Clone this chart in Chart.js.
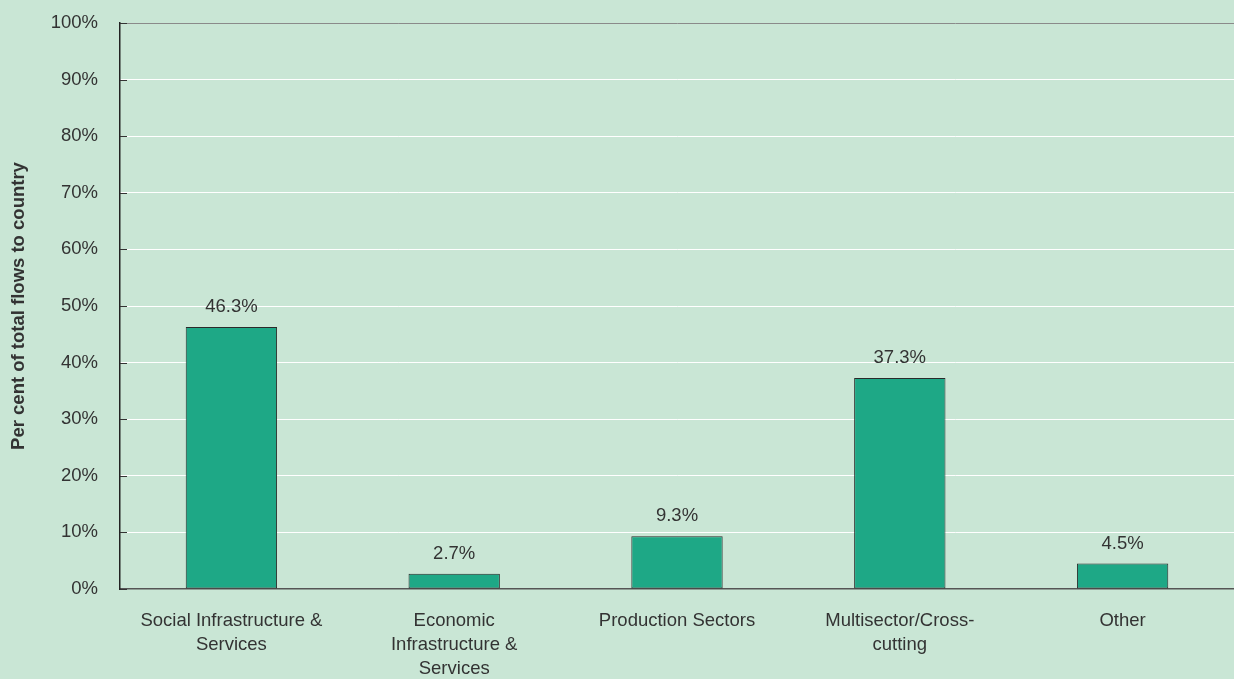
<!DOCTYPE html>
<html>
<head>
<meta charset="utf-8">
<script src="https://cdn.jsdelivr.net/npm/chart.js@4"></script>
<style>
  html, body { margin: 0; padding: 0; background: #c9e6d5; }
  #wrap { width: 1234px; height: 679px; }
</style>
</head>
<body>
<div id="wrap"><canvas id="c" width="1234" height="679"></canvas></div>
<script>
  // sector shares of total flows
  var categories = [
    ["Social Infrastructure &", "Services"],
    ["Economic", "Infrastructure &", "Services"],
    ["Production Sectors"],
    ["Multisector/Cross-", "cutting"],
    ["Other"]
  ];
  var shares = [46.3, 2.7, 9.3, 37.3, 4.5];
  var yTicks = [0, 10, 20, 30, 40, 50, 60, 70, 80, 90, 100];

  var TEXT = "#333333";
  var FONT = "'Liberation Sans', Arial, sans-serif";
  var SIZE = 18.5;

  // value labels above each bar
  var barLabels = {
    id: "barLabels",
    afterDatasetsDraw: function (chart) {
      var ctx = chart.ctx;
      var meta = chart.getDatasetMeta(0);
      ctx.save();
      ctx.fillStyle = TEXT;
      ctx.font = SIZE + "px " + FONT;
      ctx.textAlign = "center";
      ctx.textBaseline = "middle";
      meta.data.forEach(function (bar, i) {
        ctx.fillText(shares[i].toFixed(1) + "%", bar.x, bar.y - 20);
      });
      ctx.restore();
    }
  };

  // small inward tick marks on the value axis
  var innerTicks = {
    id: "innerTicks",
    afterDraw: function (chart) {
      var ctx = chart.ctx;
      var y = chart.scales.y;
      var left = chart.chartArea.left;
      ctx.save();
      ctx.strokeStyle = "#333";
      ctx.lineWidth = 1;
      yTicks.forEach(function (v) {
        var py = Math.round(y.getPixelForValue(v)) + 0.5;
        ctx.beginPath();
        ctx.moveTo(left, py);
        ctx.lineTo(left + 7, py);
        ctx.stroke();
      });
      ctx.restore();
    }
  };

  new Chart(document.getElementById("c"), {
    type: "bar",
    data: {
      labels: categories,
      datasets: [{
        data: shares,
        backgroundColor: "#1ea886",
        borderColor: "#2a2a2a",
        borderWidth: 1,
        borderSkipped: false,
        categoryPercentage: 1,
        barPercentage: 0.41
      }]
    },
    options: {
      responsive: false,
      animation: false,
      layout: { padding: { top: 23, right: 0, bottom: 0, left: 8 } },
      plugins: { legend: { display: false }, tooltip: { enabled: false } },
      scales: {
        x: {
          grid: { display: false, drawTicks: false },
          border: { color: "#555", width: 1.5 },
          ticks: {
            color: TEXT,
            font: { family: FONT, size: SIZE, lineHeight: 1.3 },
            padding: 20,
            maxRotation: 0,
            autoSkip: false
          },
          afterFit: function (s) {
            s.height = 90;
            s.paddingLeft = 0;
            s.paddingRight = 0;
          }
        },
        y: {
          min: 0,
          max: 100,
          afterBuildTicks: function (s) {
            s.ticks = yTicks.map(function (v) { return { value: v }; });
          },
          grid: {
            drawTicks: false,
            lineWidth: 1,
            color: function (c) {
              if (c.tick && c.tick.value === 100) return "#8a8a8a";
              if (c.tick && c.tick.value === 0) return "rgba(0,0,0,0)";
              return "#ffffff";
            }
          },
          border: { color: "#222", width: 1.5 },
          ticks: {
            color: TEXT,
            font: { family: FONT, size: SIZE },
            padding: 22,
            callback: function (v) { return v + "%"; }
          },
          title: {
            display: true,
            text: "Per cent of total flows to country",
            color: TEXT,
            font: { family: FONT, size: SIZE, weight: "bold" },
            padding: 0
          },
          afterFit: function (s) {
            s.width = 112;
            s.paddingTop = 0;
            s.paddingBottom = 0;
          }
        }
      }
    },
    plugins: [barLabels, innerTicks]
  });
</script>
</body>
</html>
